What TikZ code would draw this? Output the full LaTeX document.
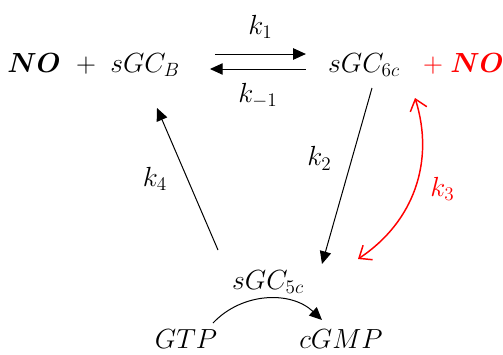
\documentclass[tikz,border=0pt]{standalone}
\usepackage{amsmath,bm}
\usepackage{xcolor}
\usetikzlibrary{arrows.meta, positioning}

\begin{document}
\begin{tikzpicture}[
    x=0.75pt, y=-0.75pt,
    species/.style={font=\fontsize{20.5}{24}\selectfont, inner sep=0pt, anchor=base},
    rate/.style={font=\fontsize{20.5}{24}\selectfont, inner sep=2pt},
    arrow/.style={line width=0.75pt, -{Triangle[length=9.5pt,width=8.5pt]}},
    redarrow/.style={red, line width=1.1pt, {Straight Barb[length=8pt,width=13pt]}-{Straight Barb[length=8pt,width=13pt]}}
]
\useasboundingbox (0,0) rectangle (503,354);

% Species
\node[species] (NObound) at (34,72) {$\bm{NO}$};
\node[species] (plusL) at (86,72) {$+$};
\node[species] (sGCB) at (145,72) {$sGC_B$};
\node[species] (sGC6c) at (364,72) {$sGC_{6c}$};
\node[species, red] (plusR) at (433,72) {$+$};
\node[species, red] (NOfree) at (477,72) {$\bm{NO}$};
\node[species] (sGC5c) at (268,289) {$sGC_{5c}$};
\node[species] (GTP) at (186,348) {$GTP$};
\node[species] (cGMP) at (341,348) {$cGMP$};

% Reactions
\draw[arrow] ([shift={(35,-18)}]sGCB.base east) -- ([shift={(-22,-18)}]sGC6c.base west)
    node[rate, midway, above=9pt] (k1) {$k_1$};
\draw[arrow] ([shift={(-22,-3)}]sGC6c.base west) -- ([shift={(30,-3)}]sGCB.base east)
    node[rate, midway, below=8pt] (km1) {$k_{-1}$};
\draw[arrow] ([shift={(8,16)}]sGC6c.base) -- ([shift={(54,-25)}]sGC5c.base)
    node[rate, pos=0.4, left=13pt] (k2) {$k_2$};
\draw[arrow] ([shift={(-50,-39)}]sGC5c.base) -- ([shift={(12,36)}]sGCB.base)
    node[rate, midway, left=13pt] (k4) {$k_4$};
\draw[redarrow] ([shift={(-18,26)}]plusR.base) to[bend left=37]
    node[rate, pos=0.5, right=9pt, text=red] (k3) {$k_3$}
    ([shift={(90,-30)}]sGC5c.base);
\draw[arrow] ([shift={(27,-25)}]GTP.base) to[bend left=45] ([shift={(-19,-28)}]cGMP.base);

\end{tikzpicture}
\end{document}
